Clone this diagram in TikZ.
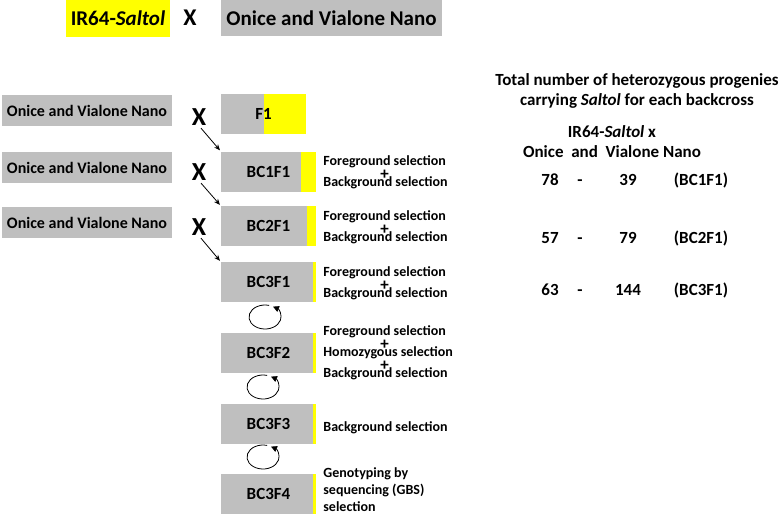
\documentclass[tikz,border=0pt]{standalone}
\usepackage{fontspec}
\setmainfont{Carlito}
\usepackage{calc}
\usetikzlibrary{positioning,arrows.meta}
\definecolor{boxgray}{RGB}{191,191,191}
\definecolor{saltol}{RGB}{255,255,0}
\newcommand{\plusrow}{\makebox[\widthof{Foreground selection}]{\fontsize{17}{21}\selectfont+}}

\begin{document}
\begin{tikzpicture}[x=1pt,y=-1pt,>={Stealth[length=6pt,width=5pt]},thick,node distance=30pt,
    parent/.style={fill=boxgray,inner sep=0pt,minimum width=170pt,minimum height=31pt,font=\bfseries\fontsize{16}{16}\selectfont},
    gen/.style={fill=boxgray,inner sep=0pt,minimum width=95pt,minimum height=40pt,font=\bfseries\fontsize{17}{17}\selectfont,
        path picture={\fill[saltol] ([xshift=-#1]path picture bounding box.north east) rectangle (path picture bounding box.south east);}},
    gen/.default=3pt,
    cross/.style={inner sep=0pt,font=\bfseries\fontsize{26}{26}\selectfont},
    sel/.style={inner sep=0pt,anchor=base west,align=left,font=\bfseries\fontsize{14}{21}\selectfont},
    tab/.style={inner sep=0pt,anchor=base,font=\bfseries\fontsize{17}{20}\selectfont},
    selfing/.style={line width=0.8pt,-{Triangle[length=6pt,width=6pt]}}]
    \useasboundingbox (0,0) rectangle (784,514);

    % first cross
    \node[fill=saltol,inner sep=0pt,minimum width=104pt,minimum height=37pt,font=\bfseries\fontsize{21}{21}\selectfont] (ir64) at (118,18.5) {IR64-\textit{Saltol}};
    \node[cross,font=\bfseries\fontsize{24}{24}\selectfont] (x0) at (190,18) {X};
    \node[parent,minimum width=221pt,minimum height=36pt,font=\bfseries\fontsize{21}{21}\selectfont] (ovn0) at (331.5,18) {Onice and Vialone Nano};

    % recurrent parents
    \node[parent] (ovn1) at (87,110.5) {Onice and Vialone Nano};
    \node[parent] (ovn2) at (87,167.5) {Onice and Vialone Nano};
    \node[parent] (ovn3) at (87,222.5) {Onice and Vialone Nano};
    \node[cross] (x1) at (199,117) {X};
    \node[cross] (x2) at (199,172) {X};
    \node[cross] (x3) at (199,227) {X};

    % generations
    \node[gen=42pt,minimum width=85pt] (f1) at (263.5,114) {F1};
    \node[gen=15pt] (bc1f1) at (268.5,171.5) {BC1F1};
    \node[gen=9pt] (bc2f1) at (268.5,226) {BC2F1};
    \node[gen] (bc3f1) at (268.5,282) {BC3F1};
    \node[gen] (bc3f2) [below=of bc3f1] {BC3F2};
    \node[gen] (bc3f3) [below=of bc3f2] {BC3F3};
    \node[gen] (bc3f4) [below=of bc3f3] {BC3F4};

    \draw[->,shorten <=3pt,shorten >=1pt] (x1.south) -- (bc1f1.north west);
    \draw[->,shorten <=3pt,shorten >=1pt] (x2.south) -- (bc2f1.north west);
    \draw[->,shorten <=3pt,shorten >=1pt] (x3.south) -- (bc3f1.north west);

    % selfing
    \coordinate (self1) at (265,317);
    \coordinate (self2) at (263,387);
    \coordinate (self3) at (263,457);
    \foreach \s in {self1,self2,self3}
        \draw[selfing] ([shift={(75:16pt and 12pt)}]\s) arc[start angle=75,end angle=420,x radius=16pt,y radius=12pt];

    % selection steps
    \node[sel] (sel1) at (323,186) {Foreground selection\\[-6.5pt]\plusrow\\[-14.5pt]Background selection};
    \node[sel] (sel2) at (323,241) {Foreground selection\\[-6.5pt]\plusrow\\[-14.5pt]Background selection};
    \node[sel] (sel3) at (323,297) {Foreground selection\\[-6.5pt]\plusrow\\[-14.5pt]Background selection};
    \node[sel] (sel4) at (323,377) {Foreground selection\\[-6.5pt]\plusrow\\[-14.5pt]Homozygous selection\\[-6.5pt]\plusrow\\[-14.5pt]Background selection};
    \node[sel] (sel5) at (323,431) {Background selection};
    \node[sel,font=\bfseries\fontsize{14}{17}\selectfont] (sel6) at (323,511) {Genotyping by\\sequencing (GBS)\\selection};

    % progenies
    \node[tab,align=center] (title) at (637,105) {Total number of heterozygous progenies\\carrying \textit{Saltol} for each backcross};
    \node[tab] (donor) at (612,137) {IR64-\textit{Saltol} x};
    \node[tab] (recur) at (612,157) {Onice\ \ and\ \ Vialone Nano};
    \foreach \a/\b/\g/\y [count=\i] in {78/39/BC1F1/185,57/79/BC2F1/243,63/144/BC3F1/295} {
        \node[tab] (on\i) at (550,\y) {\a};
        \node[tab] (dash\i) at (580,\y) {-};
        \node[tab] (vn\i) at (628,\y) {\b};
        \node[tab] (gen\i) at (701,\y) {(\g)};
    }
\end{tikzpicture}
\end{document}
